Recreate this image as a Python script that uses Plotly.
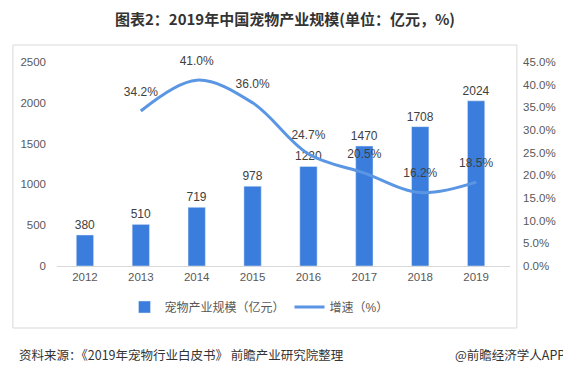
import plotly.graph_objects as go

years = ["2012", "2013", "2014", "2015", "2016", "2017", "2018", "2019"]
scale = [380, 510, 719, 978, 1220, 1470, 1708, 2024]
growth_years = ["2013", "2014", "2015", "2016", "2017", "2018", "2019"]
growth = [34.2, 41.0, 36.0, 24.7, 20.5, 16.2, 18.5]
left_ticks = [0, 500, 1000, 1500, 2000, 2500]
right_ticks = [0, 5, 10, 15, 20, 25, 30, 35, 40, 45]

FONT = "Liberation Sans, Noto Sans CJK SC, sans-serif"
BAR_C = "rgb(58,125,220)"
LINE_C = "rgb(90,150,228)"
TXT = "#404040"

fig = go.Figure()
fig.add_trace(go.Bar(
    x=years, y=scale, name="宠物产业规模（亿元）",
    marker_color=BAR_C, width=0.31,
    text=[str(v) for v in scale], textposition="outside", constraintext="none",
    textfont=dict(size=12, color=TXT, family=FONT), cliponaxis=False,
))
fig.add_trace(go.Scatter(
    x=growth_years, y=growth, name="增速（%）", yaxis="y2",
    mode="lines+markers+text", line=dict(color=LINE_C, width=3, shape="spline", smoothing=1.0),
    marker=dict(size=18, color="rgba(0,0,0,0)"),
    text=[f"{v:.1f}%" for v in growth], textposition="top center",
    textfont=dict(size=12, color=TXT, family=FONT), cliponaxis=False,
))

# page body has an 8px margin: figure coords = reference coords - 8
O = 8
W, H = 571 - O, 375 - O
L, T = 48 - O, 62 - O
pw, ph = 462, 204
R = W - L - pw
B = H - T - ph
def px(x): return (x - O - L) / pw
def py(y): return (H - B - (y - O)) / ph

fig.update_layout(
    width=W, height=H,
    margin=dict(l=L, r=R, t=T, b=B),
    paper_bgcolor="white", plot_bgcolor="white",
    font=dict(family=FONT, size=11.5, color="#595959"),
    title=dict(text="<b>图表2：2019年中国宠物产业规模(单位：亿元，%)</b>",
               x=(285 - O) / W, xanchor="center", y=1 - (20 - O) / H, yanchor="middle",
               font=dict(size=15, color="#333333", family="Noto Sans CJK SC, sans-serif")),
    xaxis=dict(type="category", showgrid=False, showline=True, linecolor="#d9d9d9",
               linewidth=1, ticks="", tickfont=dict(size=11.5, color="#595959")),
    yaxis=dict(range=[0, 2500], tickvals=left_ticks, showgrid=False, zeroline=False,
               showline=False, ticklabelstandoff=10, tickfont=dict(size=11.5, color="#595959")),
    yaxis2=dict(range=[0, 45], tickvals=right_ticks, ticktext=[f"{v:.1f}%" for v in right_ticks],
                overlaying="y", side="right", showgrid=False, zeroline=False, showline=False,
                ticklabelstandoff=12, tickfont=dict(size=11.5, color="#595959")),
    showlegend=True,
    legend=dict(orientation="h", x=px(254), xanchor="center", y=py(307), yanchor="middle",
                font=dict(size=12, color="#595959"), bgcolor="rgba(0,0,0,0)",
                itemwidth=30),
    shapes=[dict(type="rect", xref="paper", yref="paper",
                 x0=px(3), x1=px(517), y0=py(328), y1=py(45),
                 line=dict(color="#d9d9d9", width=1), fillcolor="rgba(0,0,0,0)", layer="below")],
    annotations=[
        dict(text="资料来源：《2019年宠物行业白皮书》 前瞻产业研究院整理", xref="paper", yref="paper",
             x=px(7), y=py(354), xanchor="left", yanchor="middle", showarrow=False,
             font=dict(size=12.5, color="#333333", family="Noto Sans CJK SC, sans-serif")),
        dict(text="@前瞻经济学人APP", xref="paper", yref="paper",
             x=px(568), y=py(354), xanchor="right", yanchor="middle", showarrow=False,
             font=dict(size=12.5, color="#333333", family="Noto Sans CJK SC, sans-serif")),
    ],
)

fig.write_html("out.html")
